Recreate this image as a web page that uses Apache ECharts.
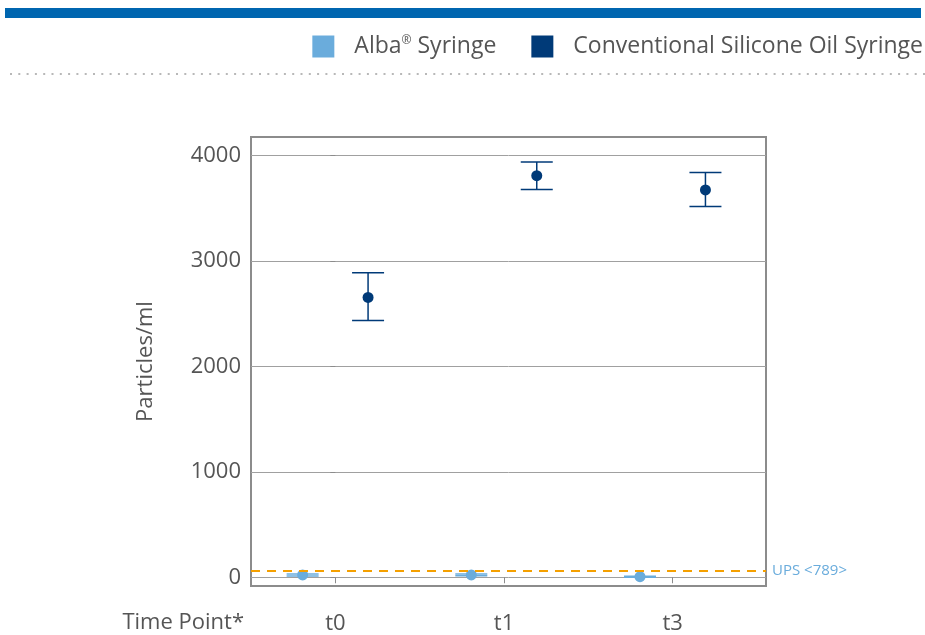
<!DOCTYPE html>
<html>
<head>
<meta charset="utf-8">
<script src="https://cdn.jsdelivr.net/npm/echarts@6/dist/echarts.min.js"></script>
<style>
  html, body { margin: 0; padding: 0; background: #fff; }
  #main { width: 925px; height: 635px; }
</style>
</head>
<body>
<div id="main"></div>
<script>
var categories = ['t0', 't1', 't3'];
var yTicks = [0, 1000, 2000, 3000, 4000];
var albaMean = [22, 22, 5];
var albaLow = [12, 14, 0];
var albaHigh = [32, 30, 10];
var convMean = [2655, 3810, 3675];
var convLow = [2437, 3678, 3518];
var convHigh = [2890, 3940, 3840];
var upsLimit = 60;

var light = '#6aacdc';
var dark = '#003a78';
var shift = 0.194;

function points(vals, off) {
    return vals.map(function (v, i) { return [i + off, v]; });
}
function bars(lo, hi, off) {
    return lo.map(function (v, i) { return [i + off, v, hi[i]]; });
}
function errorBar(color) {
    return function (params, api) {
        var x = api.value(0);
        var a = api.coord([x, api.value(1)]);
        var b = api.coord([x, api.value(2)]);
        var w = 16;
        var st = { stroke: color, lineWidth: 1.5 };
        return {
            type: 'group',
            children: [
                { type: 'line', shape: { x1: a[0], y1: a[1], x2: b[0], y2: b[1] }, style: st },
                { type: 'line', shape: { x1: a[0] - w, y1: a[1], x2: a[0] + w, y2: a[1] }, style: st },
                { type: 'line', shape: { x1: b[0] - w, y1: b[1], x2: b[0] + w, y2: b[1] }, style: st }
            ]
        };
    };
}

var chart = echarts.init(document.getElementById('main'));
var option = {
    animation: false,
    textStyle: { fontFamily: 'Open Sans' },
    graphic: [
        { type: 'rect', shape: { x: 5, y: 8, width: 916, height: 10 }, style: { fill: '#0066b0' } },
        { type: 'line', shape: { x1: 10, y1: 74, x2: 925, y2: 74 },
          style: { stroke: '#b8b8b8', lineWidth: 2, lineDash: [2, 6.3] } },
        { type: 'text', right: 925 - 244, top: 612,
          style: { text: 'Time Point*', fontSize: 22, fill: '#555', fontFamily: 'Open Sans' } }
    ],
    legend: {
        right: 2,
        top: 35,
        padding: 0,
        icon: 'rect',
        itemWidth: 22,
        itemHeight: 22,
        itemGap: 35,
        formatter: function (name) {
            return name.replace('®', '{sup|®}');
        },
        textStyle: {
            fontSize: 23, color: '#555', padding: [0, 0, 0, 15],
            rich: { sup: { fontSize: 12, color: '#555', verticalAlign: 'top', padding: [0, 0, 8, 0] } }
        },
        data: [
            { name: 'Alba® Syringe', itemStyle: { color: light } },
            { name: 'Conventional Silicone Oil Syringe', itemStyle: { color: dark } }
        ]
    },
    grid: {
        left: 251, top: 137, width: 515, height: 450,
        show: true, borderColor: '#8c8c8c', borderWidth: 2
    },
    xAxis: {
        type: 'value',
        min: -0.5,
        max: 2.553,
        axisLine: { show: false },
        splitLine: { show: false },
        axisTick: { customValues: [0, 1, 2], length: 6, lineStyle: { color: '#8c8c8c' } },
        axisLabel: {
            customValues: [0, 1, 2],
            formatter: function (v) { return categories[Math.round(v)]; },
            fontSize: 22, color: '#555', margin: 27
        }
    },
    yAxis: {
        type: 'value',
        min: -83,
        max: 4177,
        name: 'Particles/ml',
        nameLocation: 'middle',
        nameGap: 94,
        nameTextStyle: { fontSize: 22, color: '#555' },
        axisLine: { show: false },
        axisTick: { customValues: yTicks, length: 5, lineStyle: { color: '#8c8c8c' } },
        axisLabel: {
            customValues: yTicks, fontSize: 22, color: '#555', margin: 10,
            formatter: function (v) { return String(v); }
        },
        splitLine: { lineStyle: { color: '#a0a0a0', width: 1 } }
    },
    series: [
        {
            type: 'custom',
            name: 'Alba® Syringe',
            renderItem: errorBar(light),
            data: bars(albaLow, albaHigh, -shift),
            z: 3,
            markLine: {
                silent: true,
                symbol: 'none',
                lineStyle: { color: '#f5a000', type: [9, 7], width: 2 },
                label: { position: 'end', formatter: 'UPS <789>', color: light, fontSize: 15, distance: 6 },
                data: [{ yAxis: upsLimit }]
            }
        },
        {
            type: 'scatter',
            name: 'Alba® Syringe',
            symbolSize: 11,
            itemStyle: { color: light, opacity: 1 },
            data: points(albaMean, -shift),
            z: 4
        },
        {
            type: 'custom',
            name: 'Conventional Silicone Oil Syringe',
            renderItem: errorBar(dark),
            data: bars(convLow, convHigh, shift),
            z: 3
        },
        {
            type: 'scatter',
            name: 'Conventional Silicone Oil Syringe',
            symbolSize: 11,
            itemStyle: { color: dark, opacity: 1 },
            data: points(convMean, shift),
            z: 4
        }
    ]
};
chart.setOption(option);
window.addEventListener('resize', function () { chart.resize(); });
</script>
</body>
</html>
